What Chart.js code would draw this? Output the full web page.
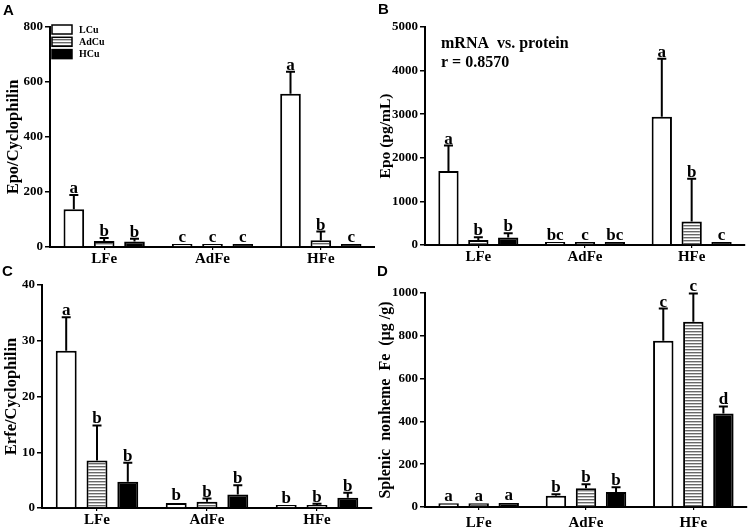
<!DOCTYPE html>
<html><head><meta charset="utf-8">
<script src="https://cdn.jsdelivr.net/npm/chart.js@4.4.0/dist/chart.umd.min.js"></script>
<style>
html,body{margin:0;padding:0;background:#fff;}
#wrap{position:relative;width:750px;height:527px;overflow:hidden;background:#fff;}
canvas{position:absolute;}
.pl{position:absolute;font:bold 15px "Liberation Sans",Arial,sans-serif;color:#000;line-height:15px;}
</style></head><body>
<div id="wrap">
<canvas id="cA" width="375" height="265" style="left:0;top:0"></canvas>
<canvas id="cB" width="375" height="265" style="left:375px;top:0"></canvas>
<canvas id="cC" width="375" height="262" style="left:0;top:265px"></canvas>
<canvas id="cD" width="375" height="262" style="left:375px;top:265px"></canvas>
<div class="pl" style="left:3px;top:2px">A</div>
<div class="pl" style="left:378px;top:1px">B</div>
<div class="pl" style="left:2px;top:263px">C</div>
<div class="pl" style="left:377px;top:263px">D</div>
</div>
<script>
// ---- data ----
const categories = ['LFe', 'AdFe', 'HFe'];
const seriesNames = ['LCu', 'AdCu', 'HCu'];

// Panel A: Epo/Cyclophilin
const epoMrnaLCu = [137, 5, 557];
const epoMrnaAdCu = [22, 3, 25];
const epoMrnaHCu = [20, 3, 3];
const epoMrnaErrLCu = [52, 2, 80];
const epoMrnaErrAdCu = [11, 1, 31];
const epoMrnaErrHCu = [10, 1, 1];
const epoMrnaLetLCu = ['a', 'c', 'a'];
const epoMrnaLetAdCu = ['b', 'c', 'b'];
const epoMrnaLetHCu = ['b', 'c', 'c'];
const ticksA = [0, 200, 400, 600, 800];

// Panel B: Epo (pg/mL)
const epoProtLCu = [1700, 50, 2940];
const epoProtAdCu = [115, 20, 540];
const epoProtHCu = [170, 40, 30];
const epoProtErrLCu = [580, 10, 1330];
const epoProtErrAdCu = [60, 5, 980];
const epoProtErrHCu = [100, 5, 20];
const epoProtLetLCu = ['a', 'bc', 'a'];
const epoProtLetAdCu = ['b', 'c', 'b'];
const epoProtLetHCu = ['b', 'bc', 'c'];
const ticksB = [0, 1000, 2000, 3000, 4000, 5000];

// Panel C: Erfe/Cyclophilin
const erfeLCu = [28.2, 0.9, 0.25];
const erfeAdCu = [8.5, 1.1, 0.5];
const erfeHCu = [4.7, 2.4, 1.85];
const erfeErrLCu = [6.0, 0.1, 0.05];
const erfeErrAdCu = [6.3, 0.6, 0.25];
const erfeErrHCu = [3.4, 1.7, 0.9];
const erfeLetLCu = ['a', 'b', 'b'];
const erfeLetAdCu = ['b', 'b', 'b'];
const erfeLetHCu = ['b', 'b', 'b'];
const ticksC = [0, 10, 20, 30, 40];

// Panel D: Splenic nonheme Fe (µg/g)
const feLCu = [17, 53, 777];
const feAdCu = [17, 88, 866];
const feHCu = [19, 70, 437];
const feErrLCu = [4, 7, 150];
const feErrAdCu = [4, 18, 132];
const feErrHCu = [3, 22, 33];
const feLetLCu = ['a', 'b', 'c'];
const feLetAdCu = ['a', 'b', 'c'];
const feLetHCu = ['a', 'b', 'd'];
const ticksD = [0, 200, 400, 600, 800, 1000];

const SERIF = '"Liberation Serif", "Times New Roman", serif';

function hatchPattern(ctx) {
  const c = document.createElement('canvas');
  c.width = 4; c.height = 3;
  const x = c.getContext('2d');
  x.fillStyle = '#ffffff'; x.fillRect(0, 0, 4, 3);
  x.fillStyle = '#686868'; x.fillRect(0, 0, 4, 1);
  x.fillStyle = '#c4c4c4'; x.fillRect(0, 1, 4, 1);
  return ctx.createPattern(c, 'repeat');
}

const errPlugin = {
  id: 'errs',
  afterDatasetsDraw(chart) {
    const ctx = chart.ctx;
    const ys = chart.scales.y;
    chart.data.datasets.forEach((ds, i) => {
      const meta = chart.getDatasetMeta(i);
      meta.data.forEach((bar, j) => {
        const v = ds.data[j], e = ds.errs[j];
        const yt = bar.y;
        const ye = ys.getPixelForValue(v + e);
        ctx.save();
        ctx.strokeStyle = '#000';
        ctx.lineWidth = 2;
        if (yt - ye > 1) {
          ctx.beginPath();
          ctx.moveTo(bar.x, yt); ctx.lineTo(bar.x, ye);
          ctx.moveTo(bar.x - 4.5, ye); ctx.lineTo(bar.x + 4.5, ye);
          ctx.stroke();
        }
        ctx.fillStyle = '#000';
        ctx.font = 'bold 17px ' + SERIF;
        ctx.textAlign = 'center';
        ctx.textBaseline = 'alphabetic';
        ctx.fillText(ds.lets[j], bar.x, Math.min(ye, yt) - 2);
        ctx.restore();
      });
    });
  }
};

const legendPlugin = {
  id: 'boxLegend',
  afterDraw(chart, args, opts) {
    if (!opts.show) return;
    const ctx = chart.ctx;
    chart.data.datasets.forEach((ds, i) => {
      const y = 25 + 12.3 * i;
      ctx.save();
      ctx.fillStyle = ds.backgroundColor;
      ctx.fillRect(52, y, 20, 9);
      ctx.strokeStyle = '#000'; ctx.lineWidth = 1.5;
      ctx.strokeRect(52, y, 20, 9);
      ctx.fillStyle = '#000';
      ctx.font = 'bold 10px ' + SERIF;
      ctx.textAlign = 'left'; ctx.textBaseline = 'middle';
      ctx.fillText(ds.label, 79, y + 5);
      ctx.restore();
    });
  }
};

const notePlugin = {
  id: 'note',
  afterDraw(chart, args, opts) {
    if (!opts.lines) return;
    const ctx = chart.ctx;
    ctx.save();
    ctx.fillStyle = '#000';
    ctx.font = 'bold 16px ' + SERIF;
    ctx.textAlign = 'left'; ctx.textBaseline = 'middle';
    opts.lines.forEach((t, k) => ctx.fillText(t, 66, 44 + 19 * k));
    ctx.restore();
  }
};

function makeChart(id, cfg) {
  const canvas = document.getElementById(id);
  const ctx = canvas.getContext('2d');
  const pat = hatchPattern(ctx);
  const fills = ['#ffffff', pat, '#000000'];
  const datasets = cfg.values.map((vals, i) => ({
    label: seriesNames[i],
    data: vals,
    errs: cfg.errs[i],
    lets: cfg.lets[i],
    backgroundColor: fills[i],
    borderColor: '#000',
    borderWidth: 2,
    minBarLength: 3,
    barPercentage: 0.68,
    categoryPercentage: 0.84
  }));
  return new Chart(ctx, {
    type: 'bar',
    data: { labels: categories, datasets },
    plugins: [errPlugin, legendPlugin, notePlugin],
    options: {
      responsive: false,
      animation: false,
      events: [],
      layout: { padding: cfg.padding },
      plugins: {
        legend: { display: false },
        tooltip: { enabled: false },
        boxLegend: { show: !!cfg.legend },
        note: { lines: cfg.note || null }
      },
      scales: {
        x: {
          afterFit(s) { s.height = cfg.xh; },
          grid: { display: true, drawOnChartArea: false, offset: false, color: '#000', lineWidth: 1.2, tickLength: 3 },
          border: { color: '#000', width: 2 },
          ticks: { color: '#000', padding: cfg.xpad, font: { family: SERIF, size: 15, weight: 'bold' } }
        },
        y: {
          min: cfg.ticks[0],
          max: cfg.ticks[cfg.ticks.length - 1],
          afterFit(s) { s.width = cfg.yw; },
          afterBuildTicks(s) { s.ticks = cfg.ticks.map(v => ({ value: v })); },
          grid: { display: true, drawOnChartArea: false, color: '#000', lineWidth: 1.5, tickLength: 5 },
          border: { color: '#000', width: 2 },
          ticks: { color: '#000', padding: 2, callback: v => String(v), font: { family: SERIF, size: 13, weight: 'bold' } },
          title: { display: true, text: cfg.title, color: '#000', padding: { top: cfg.tpad, bottom: 0 }, font: { family: SERIF, size: cfg.tsize, weight: 'bold' } }
        }
      }
    }
  });
}

makeChart('cA', {
  values: [epoMrnaLCu, epoMrnaAdCu, epoMrnaHCu],
  errs: [epoMrnaErrLCu, epoMrnaErrAdCu, epoMrnaErrHCu],
  lets: [epoMrnaLetLCu, epoMrnaLetAdCu, epoMrnaLetHCu],
  ticks: ticksA, title: 'Epo/Cyclophilin', tsize: 16.5, tpad: 4,
  padding: { top: 27, left: 0, right: 0, bottom: 0 }, yw: 50, xh: 18, xpad: 0, legend: true
});
makeChart('cB', {
  values: [epoProtLCu, epoProtAdCu, epoProtHCu],
  errs: [epoProtErrLCu, epoProtErrAdCu, epoProtErrHCu],
  lets: [epoProtLetLCu, epoProtLetAdCu, epoProtLetHCu],
  ticks: ticksB, title: 'Epo (pg/mL)', tsize: 15.5, tpad: 2,
  padding: { top: 27, left: 0, right: 5, bottom: 0 }, yw: 50, xh: 20, xpad: 0,
  note: ['mRNA  vs. protein', 'r = 0.8570']
});
makeChart('cC', {
  values: [erfeLCu, erfeAdCu, erfeHCu],
  errs: [erfeErrLCu, erfeErrAdCu, erfeErrHCu],
  lets: [erfeLetLCu, erfeLetAdCu, erfeLetHCu],
  ticks: ticksC, title: 'Erfe/Cyclophilin', tsize: 16.5, tpad: 2,
  padding: { top: 20, left: 0, right: 3, bottom: 0 }, yw: 42, xh: 19, xpad: 0
});
makeChart('cD', {
  values: [feLCu, feAdCu, feHCu],
  errs: [feErrLCu, feErrAdCu, feErrHCu],
  lets: [feLetLCu, feLetAdCu, feLetHCu],
  ticks: ticksD, title: 'Splenic  nonheme  Fe  (µg /g)', tsize: 16, tpad: 1,
  padding: { top: 28, left: 0, right: 3, bottom: 0 }, yw: 50, xh: 20, xpad: 4
});
</script>
</body></html>
